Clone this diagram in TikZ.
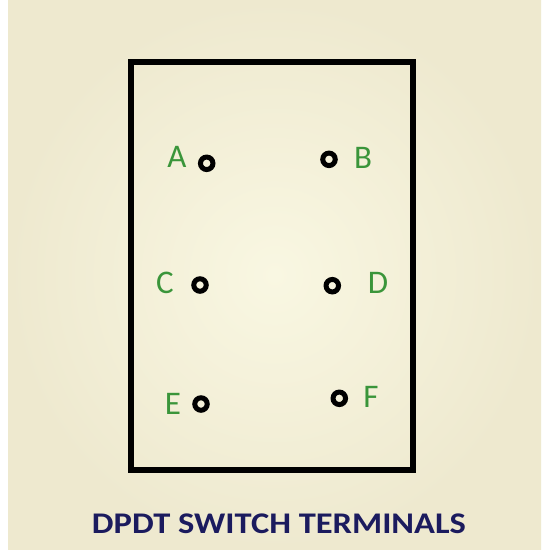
\documentclass[tikz,border=0pt]{standalone}
\usepackage{fontspec}
\setmainfont{Carlito}
\usepackage{xcolor}
\usetikzlibrary{positioning,shapes}

\definecolor{termgreen}{HTML}{3A953A}
\definecolor{titlenavy}{HTML}{1B1B5E}
\definecolor{paperin}{HTML}{F9F7E2}
\definecolor{paperout}{HTML}{EEE9CF}

\tikzset{
    terminal/.style={circle, draw=black, line width=5pt, inner sep=0pt, minimum size=12.5pt},
    termlabel/.style={text=termgreen, font=\fontsize{33}{36}\selectfont, inner sep=0pt},
}

\begin{document}
\begin{tikzpicture}[x=1pt, y=-1pt]
    \useasboundingbox (0,0) rectangle (550,550);
    % Hintergrund
    \fill[white] (0,0) rectangle (550,550);
    \shade[inner color=paperin, outer color=paperout] (8,0) rectangle (541,550);

    % Gehaeuse
    \draw[line width=6pt] (130.5,62) rectangle (412.5,470);

    % Anschluesse
    \foreach \name/\tx/\ty/\lx/\ly in {A/206.7/163.3/177/157, B/329/159.3/363/158,
                                        C/200/285/165/283, D/332.3/285.7/378/283,
                                        E/201/404/173/404, F/339.3/398.3/371/397} {
        \node[terminal] (t\name) at (\tx,\ty) {};
        \node[termlabel] (l\name) at (\lx,\ly) {\name};
    }

    % Titel
    \node[text=titlenavy, font=\bfseries\fontsize{30}{33}\selectfont, inner sep=0pt, xscale=1.15] (title) at (279,524) {DPDT SWITCH TERMINALS};
\end{tikzpicture}
\end{document}
